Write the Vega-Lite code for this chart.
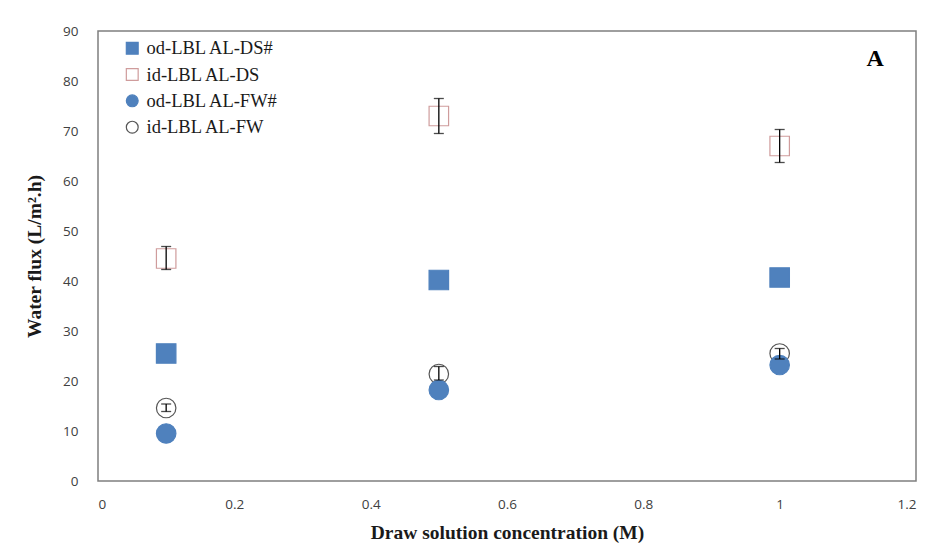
{
  "$schema": "https://vega.github.io/schema/vega-lite/v6.json",
  "width": 818,
  "height": 450,
  "autosize": "none",
  "padding": {"left": 98, "top": 31, "right": 19, "bottom": 66},
  "background": "white",
  "config": {
    "view": {"stroke": "#7f7f7f", "strokeWidth": 1.5},
    "axis": {
      "grid": false, "domain": false, "ticks": false,
      "labelFont": "Open Sans", "labelFontSize": 13.5, "labelColor": "#404040",
      "titleFont": "Liberation Serif", "titleFontSize": 19.5, "titleFontWeight": "bold", "titleColor": "#1a1a1a"
    },
    "legend": {
      "orient": "none", "legendX": 25, "legendY": 8, "title": null,
      "labelFont": "Liberation Serif", "labelFontSize": 18.5, "labelColor": "#1a1a1a",
      "symbolSize": 140, "rowPadding": 7.3, "labelOffset": 5, "symbolStrokeWidth": 1.2
    }
  },
  "datasets": {
    "pts": [
      {"series": "od-LBL AL-DS#", "x": 0.1, "y": 25.5},
      {"series": "od-LBL AL-DS#", "x": 0.5, "y": 40.2},
      {"series": "od-LBL AL-DS#", "x": 1.0, "y": 40.7},
      {"series": "id-LBL AL-DS", "x": 0.1, "y": 44.5, "lo": 42.3, "hi": 46.9},
      {"series": "id-LBL AL-DS", "x": 0.5, "y": 73.0, "lo": 69.5, "hi": 76.5},
      {"series": "id-LBL AL-DS", "x": 1.0, "y": 67.0, "lo": 63.7, "hi": 70.3},
      {"series": "id-LBL AL-FW", "x": 0.1, "y": 14.6, "lo": 13.9, "hi": 15.4},
      {"series": "id-LBL AL-FW", "x": 0.5, "y": 21.4, "lo": 20.2, "hi": 22.9},
      {"series": "id-LBL AL-FW", "x": 1.0, "y": 25.5, "lo": 24.4, "hi": 26.5},
      {"series": "od-LBL AL-FW#", "x": 0.1, "y": 9.5},
      {"series": "od-LBL AL-FW#", "x": 0.5, "y": 18.2},
      {"series": "od-LBL AL-FW#", "x": 1.0, "y": 23.2}
    ],
    "label": [{"x": 1.14, "y": 84.5, "t": "A"}]
  },
  "layer": [
    {
      "data": {"name": "pts"},
      "mark": {"type": "point", "opacity": 1, "strokeWidth": 1.2, "size": 380},
      "encoding": {
        "x": {"field": "x", "type": "quantitative", "scale": {"domain": [0, 1.2]}, "axis": {"values": [0, 0.2, 0.4, 0.6, 0.8, 1, 1.2], "format": "~g", "labelPadding": 16, "title": "Draw solution concentration (M)", "titlePadding": 13}},
        "y": {"field": "y", "type": "quantitative", "scale": {"domain": [0, 90]}, "axis": {"values": [0, 10, 20, 30, 40, 50, 60, 70, 80, 90], "labelPadding": 20, "title": "Water flux (L/m².h)", "titlePadding": 18}},
        "shape": {"field": "series", "type": "nominal", "scale": {"domain": ["od-LBL AL-DS#", "id-LBL AL-DS", "od-LBL AL-FW#", "id-LBL AL-FW"], "range": ["square", "square", "circle", "circle"]}},
        "fill": {"field": "series", "type": "nominal", "scale": {"domain": ["od-LBL AL-DS#", "id-LBL AL-DS", "od-LBL AL-FW#", "id-LBL AL-FW"], "range": ["#4f81bd", "transparent", "#4f81bd", "transparent"]}},
        "stroke": {"field": "series", "type": "nominal", "scale": {"domain": ["od-LBL AL-DS#", "id-LBL AL-DS", "od-LBL AL-FW#", "id-LBL AL-FW"], "range": ["#4f81bd", "#cf9c9c", "#4f81bd", "#555555"]}}
      }
    },
    {
      "data": {"name": "pts"},
      "transform": [{"filter": "datum.lo != null"}],
      "mark": {"type": "rule", "color": "#000000", "strokeWidth": 1.3},
      "encoding": {
        "x": {"field": "x", "type": "quantitative"},
        "y": {"field": "lo", "type": "quantitative"},
        "y2": {"field": "hi"}
      }
    },
    {
      "data": {"name": "pts"},
      "transform": [{"filter": "datum.lo != null"}, {"fold": ["lo", "hi"], "as": ["k", "v"]}],
      "mark": {"type": "tick", "orient": "horizontal", "color": "#000000", "size": 10, "thickness": 1.3},
      "encoding": {
        "x": {"field": "x", "type": "quantitative"},
        "y": {"field": "v", "type": "quantitative"}
      }
    },
    {
      "data": {"name": "label"},
      "mark": {"type": "text", "font": "Liberation Serif", "fontSize": 24, "fontWeight": "bold", "color": "#000000"},
      "encoding": {
        "x": {"field": "x", "type": "quantitative"},
        "y": {"field": "y", "type": "quantitative"},
        "text": {"field": "t"}
      }
    }
  ]
}
